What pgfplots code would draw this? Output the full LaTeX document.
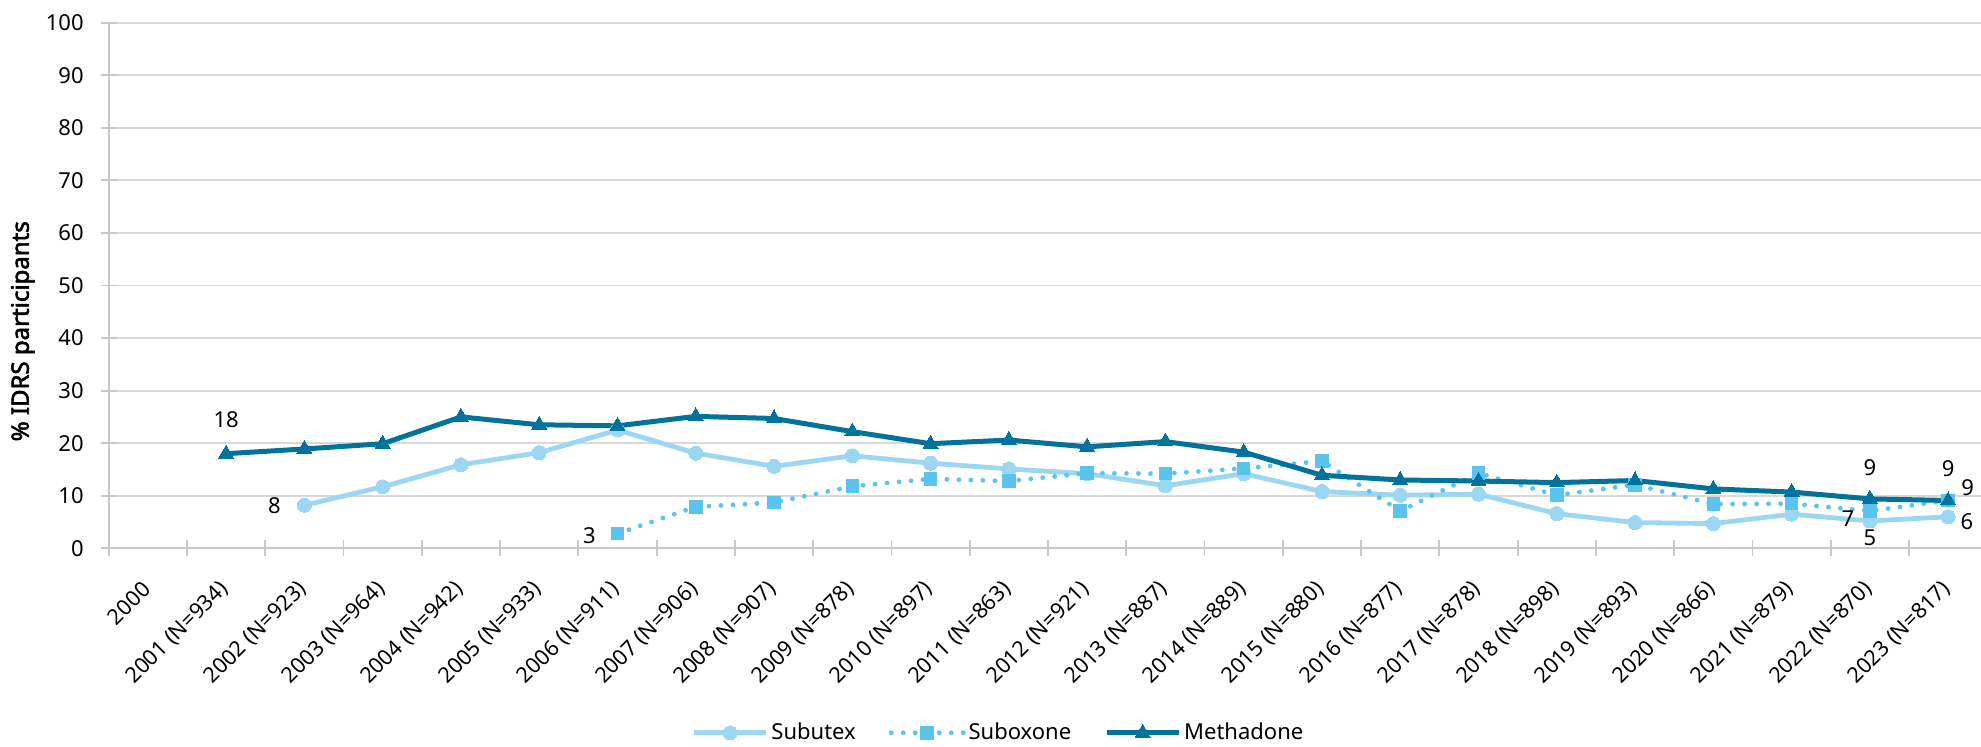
\documentclass[border=0pt]{standalone}
\usepackage{pgfplots}
\pgfplotsset{compat=1.18}
\usepackage{fontspec}
\setmainfont{Noto Sans}
\newfontfamily\ylabfont{Noto Sans}[FakeBold=2.5]
\definecolor{subutex}{RGB}{155,215,243}
\definecolor{suboxone}{RGB}{90,196,239}
\definecolor{methadone}{RGB}{0,114,155}
\definecolor{gridgray}{RGB}{217,217,217}
\definecolor{axisgray}{RGB}{200,200,200}
\newcommand{\lbl}{\fontsize{11}{13}\selectfont}
\newcommand{\xlbl}{\fontsize{10.8}{13}\selectfont}
\newcommand{\dlabel}[4]{\addplot[draw=none, mark=none, forget plot, point meta=explicit symbolic, nodes near coords, nodes near coords style={anchor=center, xshift=#3, yshift=#4, font=\lbl, text=black, inner sep=0pt}] coordinates {#1 [#2]};}
\begin{document}
\begin{tikzpicture}
\begin{axis}[
  at={(0,0)}, anchor=south west,
  scale only axis,
  width=936.15pt, height=262.8pt,
  xmin=-0.5, xmax=23.42,
  ymin=0, ymax=100,
  axis x line*=bottom, axis y line*=left,
  axis line style={axisgray, line width=0.9pt},
  ytick={0,10,...,100},
  ymajorgrids, grid style={gridgray, line width=0.9pt},
  tick align=center, major tick length=8pt,
  tick style={axisgray, line width=0.9pt},
  xtick={-0.5,0.5,...,23.5}, xticklabels={},
  extra x ticks={0,1,...,23},
  extra x tick style={major tick length=0pt, grid=none},
  extra x tick labels={2000,{2001 (N=934)},{2002 (N=923)},{2003 (N=964)},{2004 (N=942)},{2005 (N=933)},{2006 (N=911)},{2007 (N=906)},{2008 (N=907)},{2009 (N=878)},{2010 (N=897)},{2011 (N=863)},{2012 (N=921)},{2013 (N=887)},{2014 (N=889)},{2015 (N=880)},{2016 (N=877)},{2017 (N=878)},{2018 (N=898)},{2019 (N=893)},{2020 (N=866)},{2021 (N=879)},{2022 (N=870)},{2023 (N=817)}},
  xticklabel style={xshift=2pt, yshift=-16pt, rotate=45, anchor=east, font=\xlbl, inner sep=3.6pt},
  yticklabel style={font=\lbl, xshift=-5pt},
  /pgf/number format/assume math mode=true,
  ylabel={\% IDRS participants},
  ylabel style={at={(axis description cs:-0.0459,0.413)}, anchor=center, font=\ylabfont\fontsize{12}{14}\selectfont},
  legend columns=3,
  legend style={draw=none, fill=none, at={(axis description cs:0.4755,-0.351)}, anchor=center, font=\lbl, inner sep=0pt, nodes={inner sep=1.5pt}, /tikz/every even column/.append style={column sep=15pt}},
  legend image code/.code={\draw[mark repeat=2,mark phase=2,#1] plot coordinates {(0pt,0pt) (18pt,0pt) (36pt,0pt)};},
]
\addplot[subutex, line width=2.4pt, mark=*, mark size=3.5pt, mark options={solid, fill=subutex, draw=subutex, line width=0pt}] coordinates {
(2,8.2) (3,11.7) (4,15.9) (5,18.2) (6,22.5) (7,18.1) (8,15.6) (9,17.6) (10,16.2) (11,15.1) (12,14.2) (13,11.9) (14,14.2) (15,10.8) (16,10.1) (17,10.3) (18,6.6) (19,4.9) (20,4.7) (21,6.5) (22,5.2) (23,6.0)};
\addlegendentry{Subutex}
\addplot[suboxone, line width=2.4pt, line cap=round, dash pattern=on 0pt off 6pt, mark=square*, mark size=3.15pt, mark options={solid, fill=suboxone, draw=suboxone, line width=0pt}] coordinates {
(6,2.8) (7,7.9) (8,8.7) (9,11.8) (10,13.2) (11,12.8) (12,14.3) (13,14.2) (14,15.2) (15,16.6) (16,7.1) (17,14.3) (18,10.1) (19,12.1) (20,8.4) (21,8.5) (22,7.1) (23,9.1)};
\addlegendentry{Suboxone}
\addplot[methadone, line width=2.5pt, mark=triangle*, mark size=4.3pt, mark options={solid, fill=methadone, draw=methadone, line width=0pt}] coordinates {
(1,18.0) (2,18.9) (3,19.9) (4,25.0) (5,23.5) (6,23.3) (7,25.1) (8,24.7) (9,22.2) (10,19.9) (11,20.6) (12,19.3) (13,20.3) (14,18.3) (15,13.9) (16,13.0) (17,12.8) (18,12.5) (19,12.9) (20,11.3) (21,10.7) (22,9.4) (23,9.1)};
\addlegendentry{Methadone}
\dlabel{(1,18.0)}{18}{0pt}{17pt}
\dlabel{(2,8.2)}{8}{-15pt}{0pt}
\dlabel{(6,2.8)}{3}{-14pt}{-1pt}
\dlabel{(22,9.4)}{9}{0pt}{15.7pt}
\dlabel{(23,9.1)}{9}{0pt}{16pt}
\dlabel{(23,9.1)}{9}{9.7pt}{6.5pt}
\dlabel{(22,7.1)}{7}{-11pt}{-3.7pt}
\dlabel{(22,5.2)}{5}{0pt}{-8.6pt}
\dlabel{(23,6.0)}{6}{9.4pt}{-2.4pt}
\end{axis}
\pgfresetboundingbox
\path[use as bounding box] (-54.35pt,-98.85pt) rectangle (936.15pt,274.15pt);
\end{tikzpicture}
\end{document}
